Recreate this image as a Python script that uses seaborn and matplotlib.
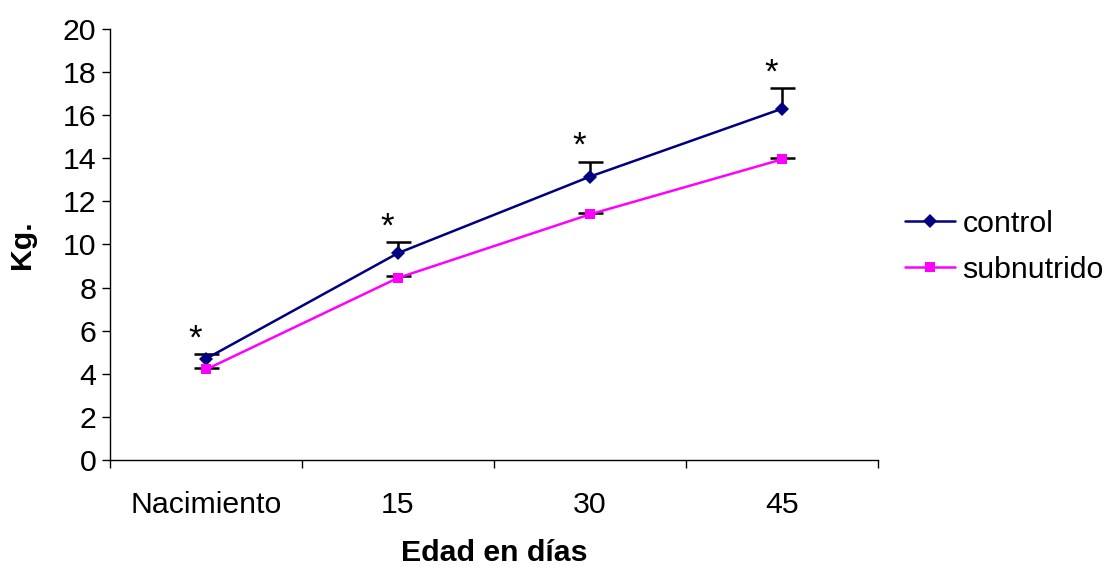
import matplotlib
matplotlib.use("Agg")
import matplotlib.pyplot as plt
import seaborn as sns
import pandas as pd
import numpy as np

categories = ["Nacimiento", "15", "30", "45"]
control = [4.7, 9.6, 13.15, 16.3]
control_err = [0.22, 0.5, 0.7, 0.95]
subnutrido = [4.2, 8.45, 11.4, 13.95]
subnutrido_err = [0.05, 0.08, 0.08, 0.05]
signif = ["*", "*", "*", "*"]

sns.set_theme(style="white")
plt.rcParams['font.family'] = ['Liberation Sans', 'DejaVu Sans']
plt.rcParams['text.color'] = 'black'
plt.rcParams['axes.labelcolor'] = 'black'
plt.rcParams['xtick.color'] = 'black'
plt.rcParams['ytick.color'] = 'black'

FS = 21.8

fig = plt.figure(figsize=(11.07, 5.67), dpi=100)
ax = fig.add_axes([0.0994, 0.1887, 0.6937, 0.7602])

pos = np.arange(len(categories))
df = pd.DataFrame({
    "pos": np.concatenate([pos, pos]),
    "kg": control + subnutrido,
    "grupo": ["control"] * 4 + ["subnutrido"] * 4,
})

palette = {"control": "#000080", "subnutrido": "#FF00FF"}
# upper-only error bars drawn beneath the lines
for vals, errs in [(control, control_err), (subnutrido, subnutrido_err)]:
    eb = ax.errorbar(pos, vals, yerr=[np.zeros(4), errs], fmt="none",
                     ecolor="black", elinewidth=1.8, capsize=9, capthick=1.8, zorder=1)
    eb[1][0].set_visible(False)

sns.lineplot(data=df, x="pos", y="kg", hue="grupo", style="grupo",
             markers={"control": "D", "subnutrido": "s"},
             dashes=False, palette=palette, linewidth=1.8,
             markersize=7, markeredgewidth=0, ax=ax, zorder=3)
for line in ax.get_lines():
    if line.get_marker() == "D":
        line.set_markersize(7)
    elif line.get_marker() == "s":
        line.set_markersize(7.5)

for i, s in enumerate(signif):
    ax.annotate(s, xy=(pos[i], control[i] + control_err[i]),
                xytext=(-8, 4), textcoords="offset points",
                ha="center", va="baseline", fontsize=25, color="black")

ax.set_xlim(-0.5, 3.5)
ax.set_ylim(0, 20)
ax.set_yticks(np.arange(0, 21, 2))
ax.set_xticks(np.arange(-0.5, 4.0, 1.0))
ax.set_xticklabels([])
ax.set_xticks(pos, minor=True)
ax.set_xticklabels(categories, minor=True)
ax.tick_params(axis="x", which="major", length=6, width=1, color="black", direction="out")
ax.tick_params(axis="x", which="minor", length=0, pad=22.5, labelsize=FS)
ax.tick_params(axis="y", which="major", length=6, width=1, color="black",
               direction="out", labelsize=FS, pad=4)
ax.tick_params(bottom=True, left=True)

for side in ["top", "right"]:
    ax.spines[side].set_visible(False)
for side in ["left", "bottom"]:
    ax.spines[side].set_color("black")
    ax.spines[side].set_linewidth(1)

ax.set_xlabel("Edad en días", fontsize=FS, fontweight="bold", labelpad=14)
ax.set_ylabel("Kg.", fontsize=FS, fontweight="bold", labelpad=19)

h, l = ax.get_legend_handles_labels()
leg = ax.legend(h, l, loc="center left", bbox_to_anchor=(1.035, 0.495),
                frameon=False, fontsize=FS, handlelength=1.65,
                handletextpad=0.25, labelspacing=0.6, borderpad=0, borderaxespad=0)

fig.savefig("out.png", dpi=100)
